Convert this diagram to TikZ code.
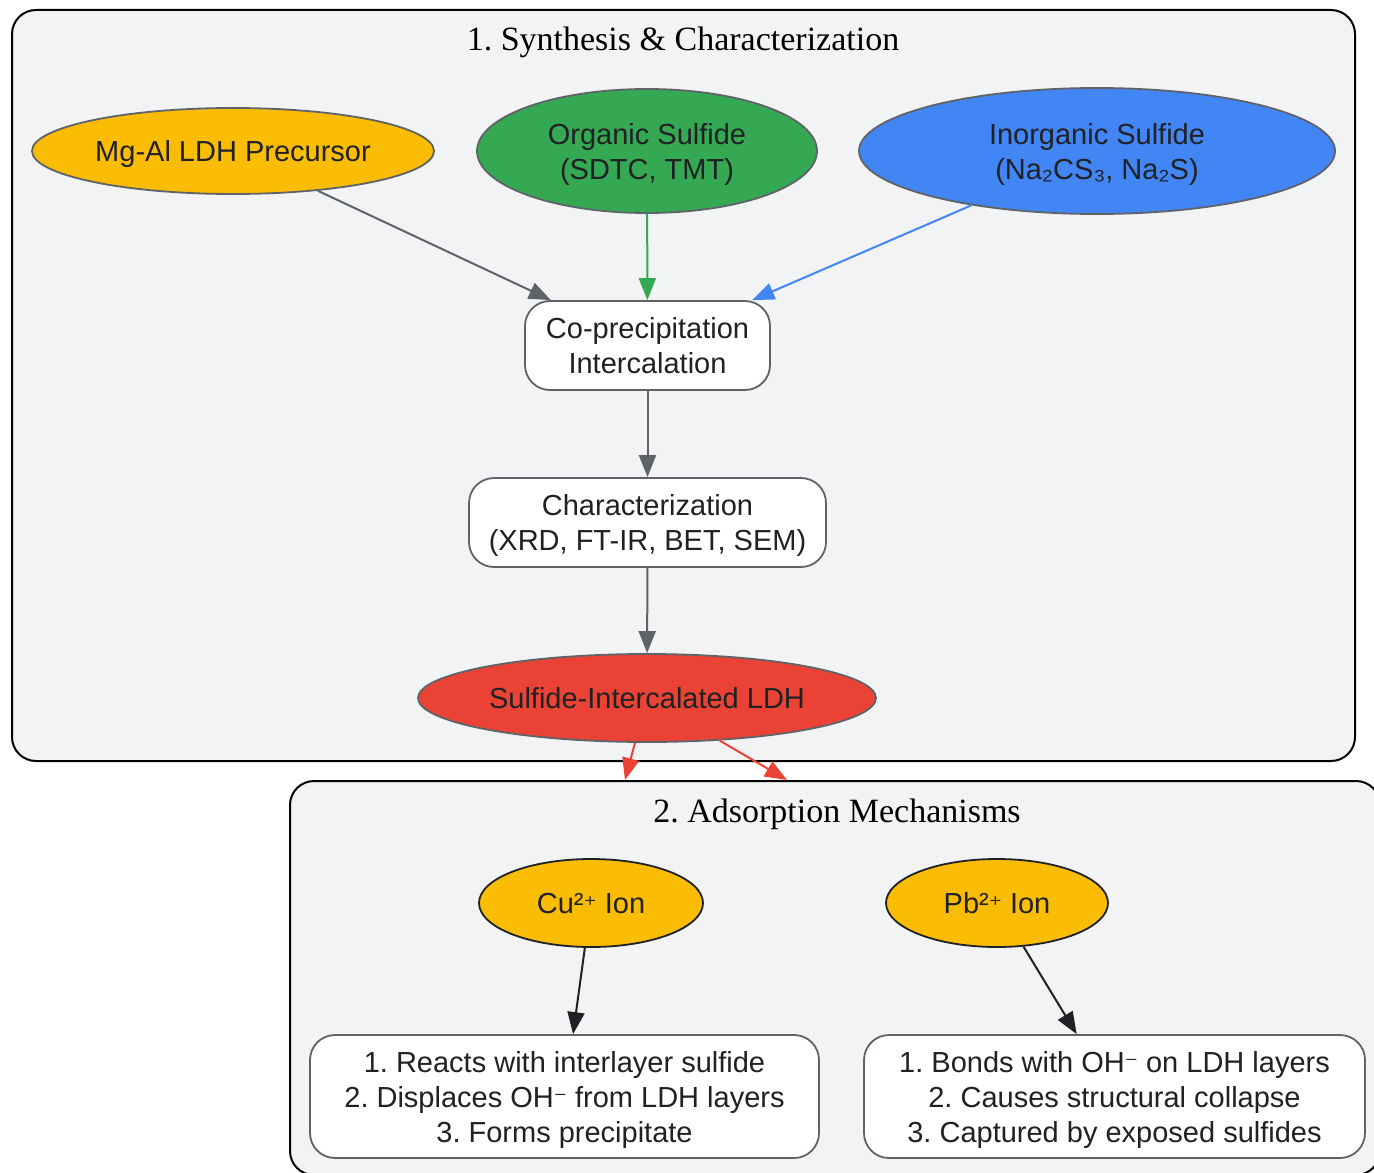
\documentclass[tikz,border=0pt]{standalone}
\usepackage{fontspec}
\setmainfont{Liberation Sans}
\newfontfamily\titlefont{Liberation Serif}
\newfontfamily\symfont{DejaVu Sans}
\newcommand{\supplus}{{\symfont\fontsize{12.5}{15}\selectfont ⁺}}
\newcommand{\supminus}{{\symfont\fontsize{12.5}{15}\selectfont ⁻}}
\usetikzlibrary{shapes.geometric,arrows.meta}
\definecolor{clfill}{HTML}{F1F3F4}
\definecolor{gline}{HTML}{5F6368}
\definecolor{dark}{HTML}{202124}
\definecolor{gyellow}{HTML}{FBBC04}
\definecolor{ggreen}{HTML}{34A853}
\definecolor{gblue}{HTML}{4285F4}
\definecolor{gred}{HTML}{EA4335}
\tikzset{
  cluster/.style={draw=black, line width=1pt, fill=clfill, rounded corners=12pt},
  ttl/.style={font=\titlefont\fontsize{17}{20}\selectfont, text=black},
  ell/.style={ellipse, draw=gline, line width=0.9pt, inner sep=0pt, text=dark, align=center, text depth=0pt},
  ellk/.style={ellipse, draw=dark, line width=0.9pt, inner sep=0pt, text=dark, align=center, text depth=0pt},
  rbox/.style={rectangle, rounded corners=12.5pt, draw=gline, line width=0.9pt, fill=white, inner sep=0pt, text=dark, align=center, text depth=0pt},
  arr/.style={-{Triangle[length=11pt,width=8.5pt]}, line width=1pt},
}
\begin{document}
\frenchspacing
\begin{tikzpicture}[x=0.5pt,y=-0.5pt, font=\fontsize{14.5}{17.5}\selectfont]
\useasboundingbox (0,0) rectangle (1374,1172);
% clusters
\draw[cluster] (12,10) rectangle (1355,761);
\node[ttl] (t1) at (683,42.5) {1. Synthesis \& Characterization};
\draw[cluster] (290,781) rectangle (1380,1175);
\node[ttl] (t2) at (837,814.5) {2. Adsorption Mechanisms};

% nodes cluster 1
\node[ell, fill=gyellow, minimum width=201pt, minimum height=43pt] (mg) at (233,151) {Mg-Al LDH Precursor};
\node[ell, fill=ggreen, minimum width=170pt, minimum height=62pt] (org) at (647,151) {Organic Sulfide\\(SDTC, TMT)};
\node[ell, fill=gblue, minimum width=238pt, minimum height=63pt] (inorg) at (1097,151) {Inorganic Sulfide\\(Na₂CS₃, Na₂S)};
\node[rbox, minimum width=122.5pt, minimum height=44.5pt] (co) at (647.5,345.5) {Co-precipitation\\Intercalation};
\node[rbox, minimum width=178.5pt, minimum height=44.5pt] (char) at (647.5,522.5) {Characterization\\(XRD, FT-IR, BET, SEM)};
\node[ell, fill=gred, minimum width=229pt, minimum height=44pt] (sil) at (647,698) {Sulfide-Intercalated LDH};

% nodes cluster 2
\node[ellk, fill=gyellow, minimum width=112pt, minimum height=44pt] (cu) at (591,903) {Cu²\supplus{} Ion};
\node[ellk, fill=gyellow, minimum width=111pt, minimum height=44pt] (pb) at (997,903) {Pb²\supplus{} Ion};
\node[rbox, minimum width=254.5pt, minimum height=61.5pt] (cubox) at (564.5,1096.5) {1. Reacts with interlayer sulfide\\2. Displaces OH\supminus{} from LDH layers\\3. Forms precipitate};
\node[rbox, minimum width=250.5pt, minimum height=61.5pt] (pbbox) at (1114.5,1096.5) {1. Bonds with OH\supminus{} on LDH layers\\2. Causes structural collapse\\3. Captured by exposed sulfides};

\coordinate (c2a) at (625,780);
\coordinate (c2b) at (787,780);

% edges
\draw[arr, gline] (mg) -- (co);
\draw[arr, ggreen] (org) -- (co);
\draw[arr, gblue] (inorg) -- (co);
\draw[arr, gline] (co) -- (char);
\draw[arr, gline] (char) -- (sil);
\draw[arr, gred] (sil) -- (c2a);
\draw[arr, gred] (sil) -- (c2b);
\draw[arr, dark] (cu) -- (cubox);
\draw[arr, dark] (pb) -- (pbbox);
\end{tikzpicture}
\end{document}
